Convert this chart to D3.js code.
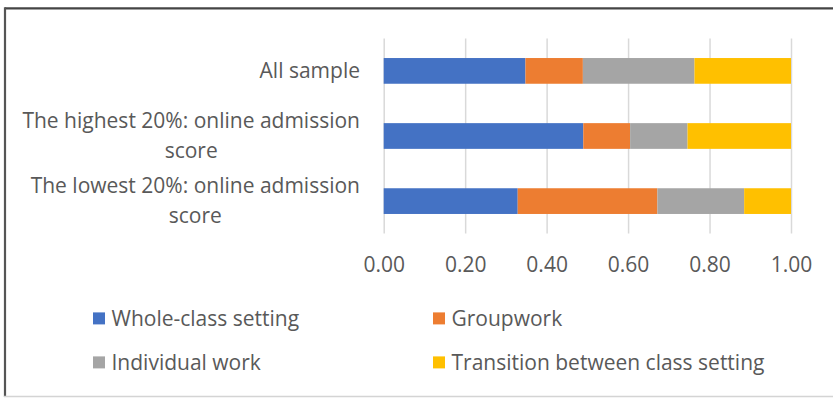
<!DOCTYPE html>
<html>
<head>
<meta charset="utf-8">
<script src="https://cdn.jsdelivr.net/npm/d3@7"></script>
<style>
  html, body { margin: 0; padding: 0; background: #fff; }
  svg text { font-family: "Open Sans", sans-serif; fill: #595959; }
</style>
</head>
<body>
<div id="bar-chart"></div>
<script>
const categories = [
  "All sample",
  "The highest 20%: online admission score",
  "The lowest 20%: online admission score"
];
const seriesNames = ["Whole-class setting", "Groupwork", "Individual work", "Transition between class setting"];
const wholeClass = [0.348, 0.490, 0.329];
const groupwork = [0.141, 0.115, 0.343];
const individualWork = [0.274, 0.141, 0.213];
const transition = [0.237, 0.254, 0.115];
const tickValues = [0, 0.2, 0.4, 0.6, 0.8, 1.0];
const colors = ["#4472C4", "#ED7D31", "#A5A5A5", "#FFC000"];

(function() {
  const width = 833;
  const height = 399;

  const svg = d3.select("#bar-chart")
    .append("svg")
    .attr("width", width)
    .attr("height", height);

  // frame
  svg.append("line").attr("x1", 5).attr("x2", width).attr("y1", 8.3).attr("y2", 8.3)
    .attr("stroke", "#444").attr("stroke-width", 2.2);
  svg.append("line").attr("x1", 5).attr("x2", 5).attr("y1", 7.2).attr("y2", 397)
    .attr("stroke", "#555").attr("stroke-width", 2.2);
  svg.append("line").attr("x1", 4).attr("x2", width).attr("y1", 396.6).attr("y2", 396.6)
    .attr("stroke", "#d4d4d4").attr("stroke-width", 1.5);

  const table = categories.map((c, i) => ({
    category: c,
    [seriesNames[0]]: wholeClass[i],
    [seriesNames[1]]: groupwork[i],
    [seriesNames[2]]: individualWork[i],
    [seriesNames[3]]: transition[i]
  }));

  const x = d3.scaleLinear().domain([0, 1]).range([383.7, 791]);
  const y = d3.scaleBand()
    .domain(categories)
    .range([38.5, 233.5])
    .paddingInner(0.605)
    .paddingOuter(0.3);

  // gridlines + tick labels
  const axis = svg.append("g")
    .attr("transform", "translate(0,233.5)")
    .call(d3.axisBottom(x).tickValues(tickValues).tickSize(-195).tickFormat(d3.format(".2f")));
  axis.select(".domain").remove();
  axis.selectAll(".tick line").attr("stroke", "#d9d9d9").attr("stroke-width", 1.5);
  axis.selectAll(".tick text")
    .attr("y", 38).attr("dy", 0)
    .style("font-size", "21px")
    .attr("fill", "#595959");

  const stacked = d3.stack().keys(seriesNames)(table);

  svg.append("g").selectAll("g")
    .data(stacked)
    .join("g")
    .attr("fill", (d, i) => colors[i])
    .selectAll("rect")
    .data(d => d)
    .join("rect")
    .attr("x", d => x(d[0]))
    .attr("width", d => x(d[1]) - x(d[0]))
    .attr("y", d => y(d.data.category))
    .attr("height", y.bandwidth());

  // category labels, wrapped and centred in a box ending at x=360
  const labelRight = 360;
  const maxWidth = 345;
  const lineGap = 30;
  categories.forEach(c => {
    const cy = y(c) + y.bandwidth() / 2;
    const t = svg.append("text").style("font-size", "21px").attr("text-anchor", "middle");
    const words = c.split(" ");
    const lines = [];
    let cur = [];
    const probe = t.append("tspan");
    words.forEach(w => {
      const test = cur.concat([w]).join(" ");
      probe.text(test);
      if (probe.node().getComputedTextLength() > maxWidth && cur.length) {
        lines.push(cur.join(" "));
        cur = [w];
      } else {
        cur.push(w);
      }
    });
    lines.push(cur.join(" "));
    let wMax = 0;
    lines.forEach(l => {
      probe.text(l);
      wMax = Math.max(wMax, probe.node().getComputedTextLength());
    });
    probe.remove();
    const cx = labelRight - wMax / 2;
    const first = cy - (lines.length - 1) * lineGap / 2 + 6.8;
    lines.forEach((l, i) => {
      t.append("tspan").attr("x", cx).attr("y", first + i * lineGap).text(l);
    });
  });

  // legend
  const legendCols = [93, 433];
  const legendRows = [318.4, 362.4];
  const legend = svg.append("g").selectAll("g")
    .data(seriesNames)
    .join("g")
    .attr("transform", (d, i) => `translate(${legendCols[i % 2]},${legendRows[Math.floor(i / 2)]})`);
  legend.append("rect")
    .attr("x", 0).attr("y", -6).attr("width", 12).attr("height", 12)
    .attr("fill", (d, i) => colors[i]);
  legend.append("text")
    .attr("x", 18.5).attr("y", 7.6)
    .style("font-size", "21px")
    .text(d => d);
})();
</script>
</body>
</html>
